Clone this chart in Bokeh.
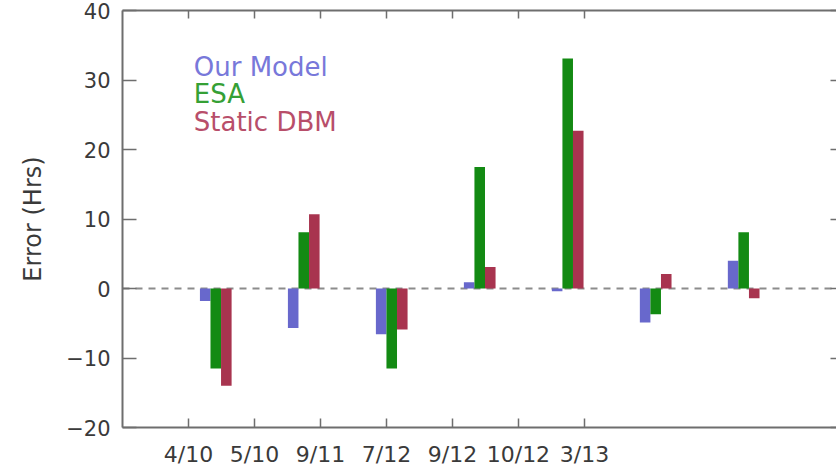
from bokeh.plotting import figure
from bokeh.models import FixedTicker, LinearAxis, Span, Range1d
from bokeh.core.properties import value
from bokeh.embed import file_html
from bokeh.resources import INLINE

# ---- data ----
dates = ["4/10", "5/10", "9/11", "7/12", "9/12", "10/12", "3/13"]
our_model = [-1.8, -5.7, -6.6, 0.9, -0.4, -4.9, 4.0]
esa = [-11.5, 8.1, -11.5, 17.5, 33.1, -3.7, 8.1]
static_dbm = [-14.0, 10.7, -5.9, 3.1, 22.7, 2.1, -1.4]
series_names = ["Our Model", "ESA", "Static DBM"]
y_ticks = [-20, -10, 0, 10, 20, 30, 40]
y_tick_labels = ["\u221220", "\u221210", "0", "10", "20", "30", "40"]

# ---- style ----
bar_colors = ["#6868cc", "#138a13", "#a8344f"]
text_colors = ["#7878da", "#35a035", "#b84e6a"]
axis_color = "#6e6e6e"
label_color = "#3a3a3a"
FONT = "DejaVu Sans"

p = figure(width=836, height=469,
           x_range=Range1d(0, 10.82), y_range=Range1d(-20, 40),
           output_backend="svg", toolbar_location=None,
           x_axis_location=None, y_axis_location=None,
           min_border_left=122, min_border_right=0,
           min_border_top=10, min_border_bottom=42)
p.outline_line_color = None
p.xgrid.visible = False
p.ygrid.visible = False
p.background_fill_color = "white"
p.border_fill_color = "white"

tick_pos = list(range(1, len(dates) + 1))

# left axis
yax = LinearAxis(ticker=FixedTicker(ticks=y_ticks),
                 major_label_overrides={t: l for t, l in zip(y_ticks, y_tick_labels)},
                 axis_label="Error (Hrs)")
yax.axis_line_color = axis_color
yax.axis_line_width = 2
yax.major_tick_line_color = axis_color
yax.major_tick_line_width = 1.5
yax.major_tick_in = 14
yax.major_tick_out = 0
yax.minor_tick_line_color = None
yax.major_label_standoff = 12
yax.major_label_text_font = FONT
yax.major_label_text_font_size = "21px"
yax.major_label_text_color = label_color
yax.axis_label_text_font = FONT
yax.axis_label_text_font_size = "24px"
yax.axis_label_text_font_style = "normal"
yax.axis_label_text_color = label_color
yax.axis_label_standoff = 16
p.add_layout(yax, "left")

# right axis (inward ticks only; spine lies beyond the picture)
rax = LinearAxis(ticker=FixedTicker(ticks=y_ticks),
                 major_label_overrides={t: "" for t in y_ticks})
rax.axis_line_color = None
rax.major_tick_line_color = axis_color
rax.major_tick_line_width = 1.5
rax.major_tick_in = 6
rax.major_tick_out = 0
rax.minor_tick_line_color = None
rax.major_label_standoff = 0
rax.major_label_text_font_size = "0px"
p.add_layout(rax, "right")

# bottom axis
xax = LinearAxis(ticker=FixedTicker(ticks=tick_pos),
                 major_label_overrides={t: d for t, d in zip(tick_pos, dates)})
xax.axis_line_color = axis_color
xax.axis_line_width = 2
xax.major_tick_line_color = axis_color
xax.major_tick_line_width = 1.5
xax.major_tick_in = 9
xax.major_tick_out = 0
xax.minor_tick_line_color = None
xax.major_label_standoff = 14
xax.major_label_text_font = FONT
xax.major_label_text_font_size = "22px"
xax.major_label_text_color = label_color
p.add_layout(xax, "below")

# top axis (border with inward ticks, no labels)
tax = LinearAxis(ticker=FixedTicker(ticks=tick_pos),
                 major_label_overrides={t: "" for t in tick_pos})
tax.axis_line_color = axis_color
tax.axis_line_width = 2
tax.major_tick_line_color = axis_color
tax.major_tick_line_width = 1.5
tax.major_tick_in = 8
tax.major_tick_out = 0
tax.minor_tick_line_color = None
tax.major_label_standoff = 0
tax.major_label_text_font_size = "0px"
p.add_layout(tax, "above")

# zero line
p.add_layout(Span(location=0, dimension="width", line_color="#8c8c8c",
                  line_width=2, line_dash="7 6", level="underlay"))

# bars
w = 0.16
group_pos = [0.08 + t * 4.0 / 3.0 for t in tick_pos]
for j, (vals, col) in enumerate(zip([our_model, esa, static_dbm], bar_colors)):
    xs = [g + (j - 1) * w for g in group_pos]
    p.vbar(x=xs, top=vals, bottom=0, width=w, fill_color=col, line_color=None)

# legend text
leg_y0, leg_dy = 31.9, 3.96
p.text(x=[1.08] * 3, y=[leg_y0 - i * leg_dy for i in range(3)], text=series_names,
       text_color=text_colors, text_font=value(FONT), text_font_size="26px",
       text_baseline="alphabetic", text_align="left")

open("out.html", "w").write(file_html(p, INLINE))
